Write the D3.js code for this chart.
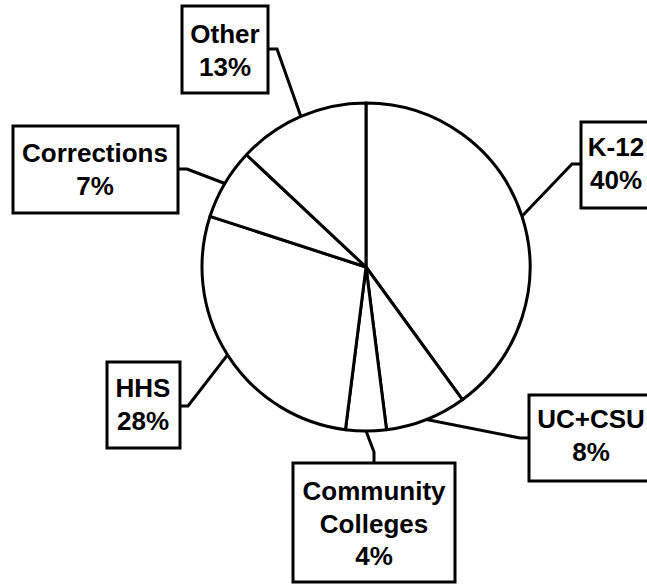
<!DOCTYPE html>
<html>
  <head>
    <meta charset="utf-8">
    <title>pie with boxed labels</title>
    <script src="https://d3js.org/d3.v7.min.js"></script>
    <style>
      body { margin: 0; background: #fff; }
      text { font-family: "Liberation Sans", Arial, sans-serif; font-weight: bold; font-size: 26px; }
    </style>
  </head>
  <body>
  <script>
  // data
    var categories = ["K-12", "UC+CSU", "Community Colleges", "HHS", "Corrections", "Other"];
    var values = [40, 8, 4, 28, 7, 13];
    var labelLines = [["K-12"], ["UC+CSU"], ["Community", "Colleges"], ["HHS"], ["Corrections"], ["Other"]];

  // basic setting
    var width = 647, height = 584;
    var cx = 366, cy = 267, radius = 164;

  // label boxes: box rect, text centre x, first baseline, stub end on box, knee point
    var boxes = [
      {x: 581, y: 122, w: 90,  h: 86,  tx: 616, ty: 156, stub: [581, 164], knee: [572, 164]},
      {x: 529, y: 395, w: 130, h: 86,  tx: 591, ty: 428, stub: [529, 438], knee: [520, 438]},
      {x: 293, y: 463, w: 162, h: 119, tx: 374, ty: 500, stub: [374, 463], knee: [374, 452]},
      {x: 107, y: 362, w: 73,  h: 86,  tx: 143, ty: 397, stub: [180, 406], knee: [188, 406]},
      {x: 13,  y: 126, w: 165, h: 87,  tx: 95,  ty: 162, stub: [178, 169], knee: [187, 169]},
      {x: 182, y: 6,   w: 86,  h: 87,  tx: 225, ty: 43,  stub: [268, 49],  knee: [277, 49]}
    ];

    var svg = d3.select("body").append("svg")
      .attr("width", width)
      .attr("height", height);

    var pie = d3.pie().sort(null).value(function(d) { return d; });
    var arcs = pie(values);

    var arc = d3.arc().innerRadius(0).outerRadius(radius);
    var edge = d3.arc().innerRadius(radius).outerRadius(radius);

    var g = svg.append("g").attr("transform", "translate(" + cx + "," + cy + ")");

    g.selectAll("path.slice")
      .data(arcs)
      .enter()
      .append("path")
      .attr("class", "slice")
      .attr("d", arc)
      .attr("fill", "#fff")
      .attr("stroke", "#000")
      .attr("stroke-width", 3)
      .attr("stroke-linejoin", "round");

    // leader lines from slice edge to box
    var line = d3.line();
    svg.selectAll("path.leader")
      .data(arcs)
      .enter()
      .append("path")
      .attr("class", "leader")
      .attr("fill", "none")
      .attr("stroke", "#000")
      .attr("stroke-width", 3)
      .attr("d", function(d, i) {
        var c = edge.centroid(d);
        var b = boxes[i];
        return line([[cx + c[0], cy + c[1]], b.knee, b.stub]);
      });

    // boxes
    svg.selectAll("rect.box")
      .data(boxes)
      .enter()
      .append("rect")
      .attr("class", "box")
      .attr("x", function(d) { return d.x; })
      .attr("y", function(d) { return d.y; })
      .attr("width", function(d) { return d.w; })
      .attr("height", function(d) { return d.h; })
      .attr("fill", "#fff")
      .attr("stroke", "#000")
      .attr("stroke-width", 3);

    // label text
    var labels = svg.selectAll("text.lab")
      .data(categories)
      .enter()
      .append("text")
      .attr("class", "lab")
      .attr("text-anchor", "middle")
      .attr("x", function(d, i) { return boxes[i].tx; })
      .attr("y", function(d, i) { return boxes[i].ty; });

    labels.each(function(d, i) {
      var t = d3.select(this);
      var lines = labelLines[i].concat([values[i] + "%"]);
      lines.forEach(function(s, j) {
        t.append("tspan")
          .attr("x", boxes[i].tx)
          .attr("dy", j === 0 ? 0 : 32.5)
          .text(s);
      });
    });
  </script>
  </body>
</html>
